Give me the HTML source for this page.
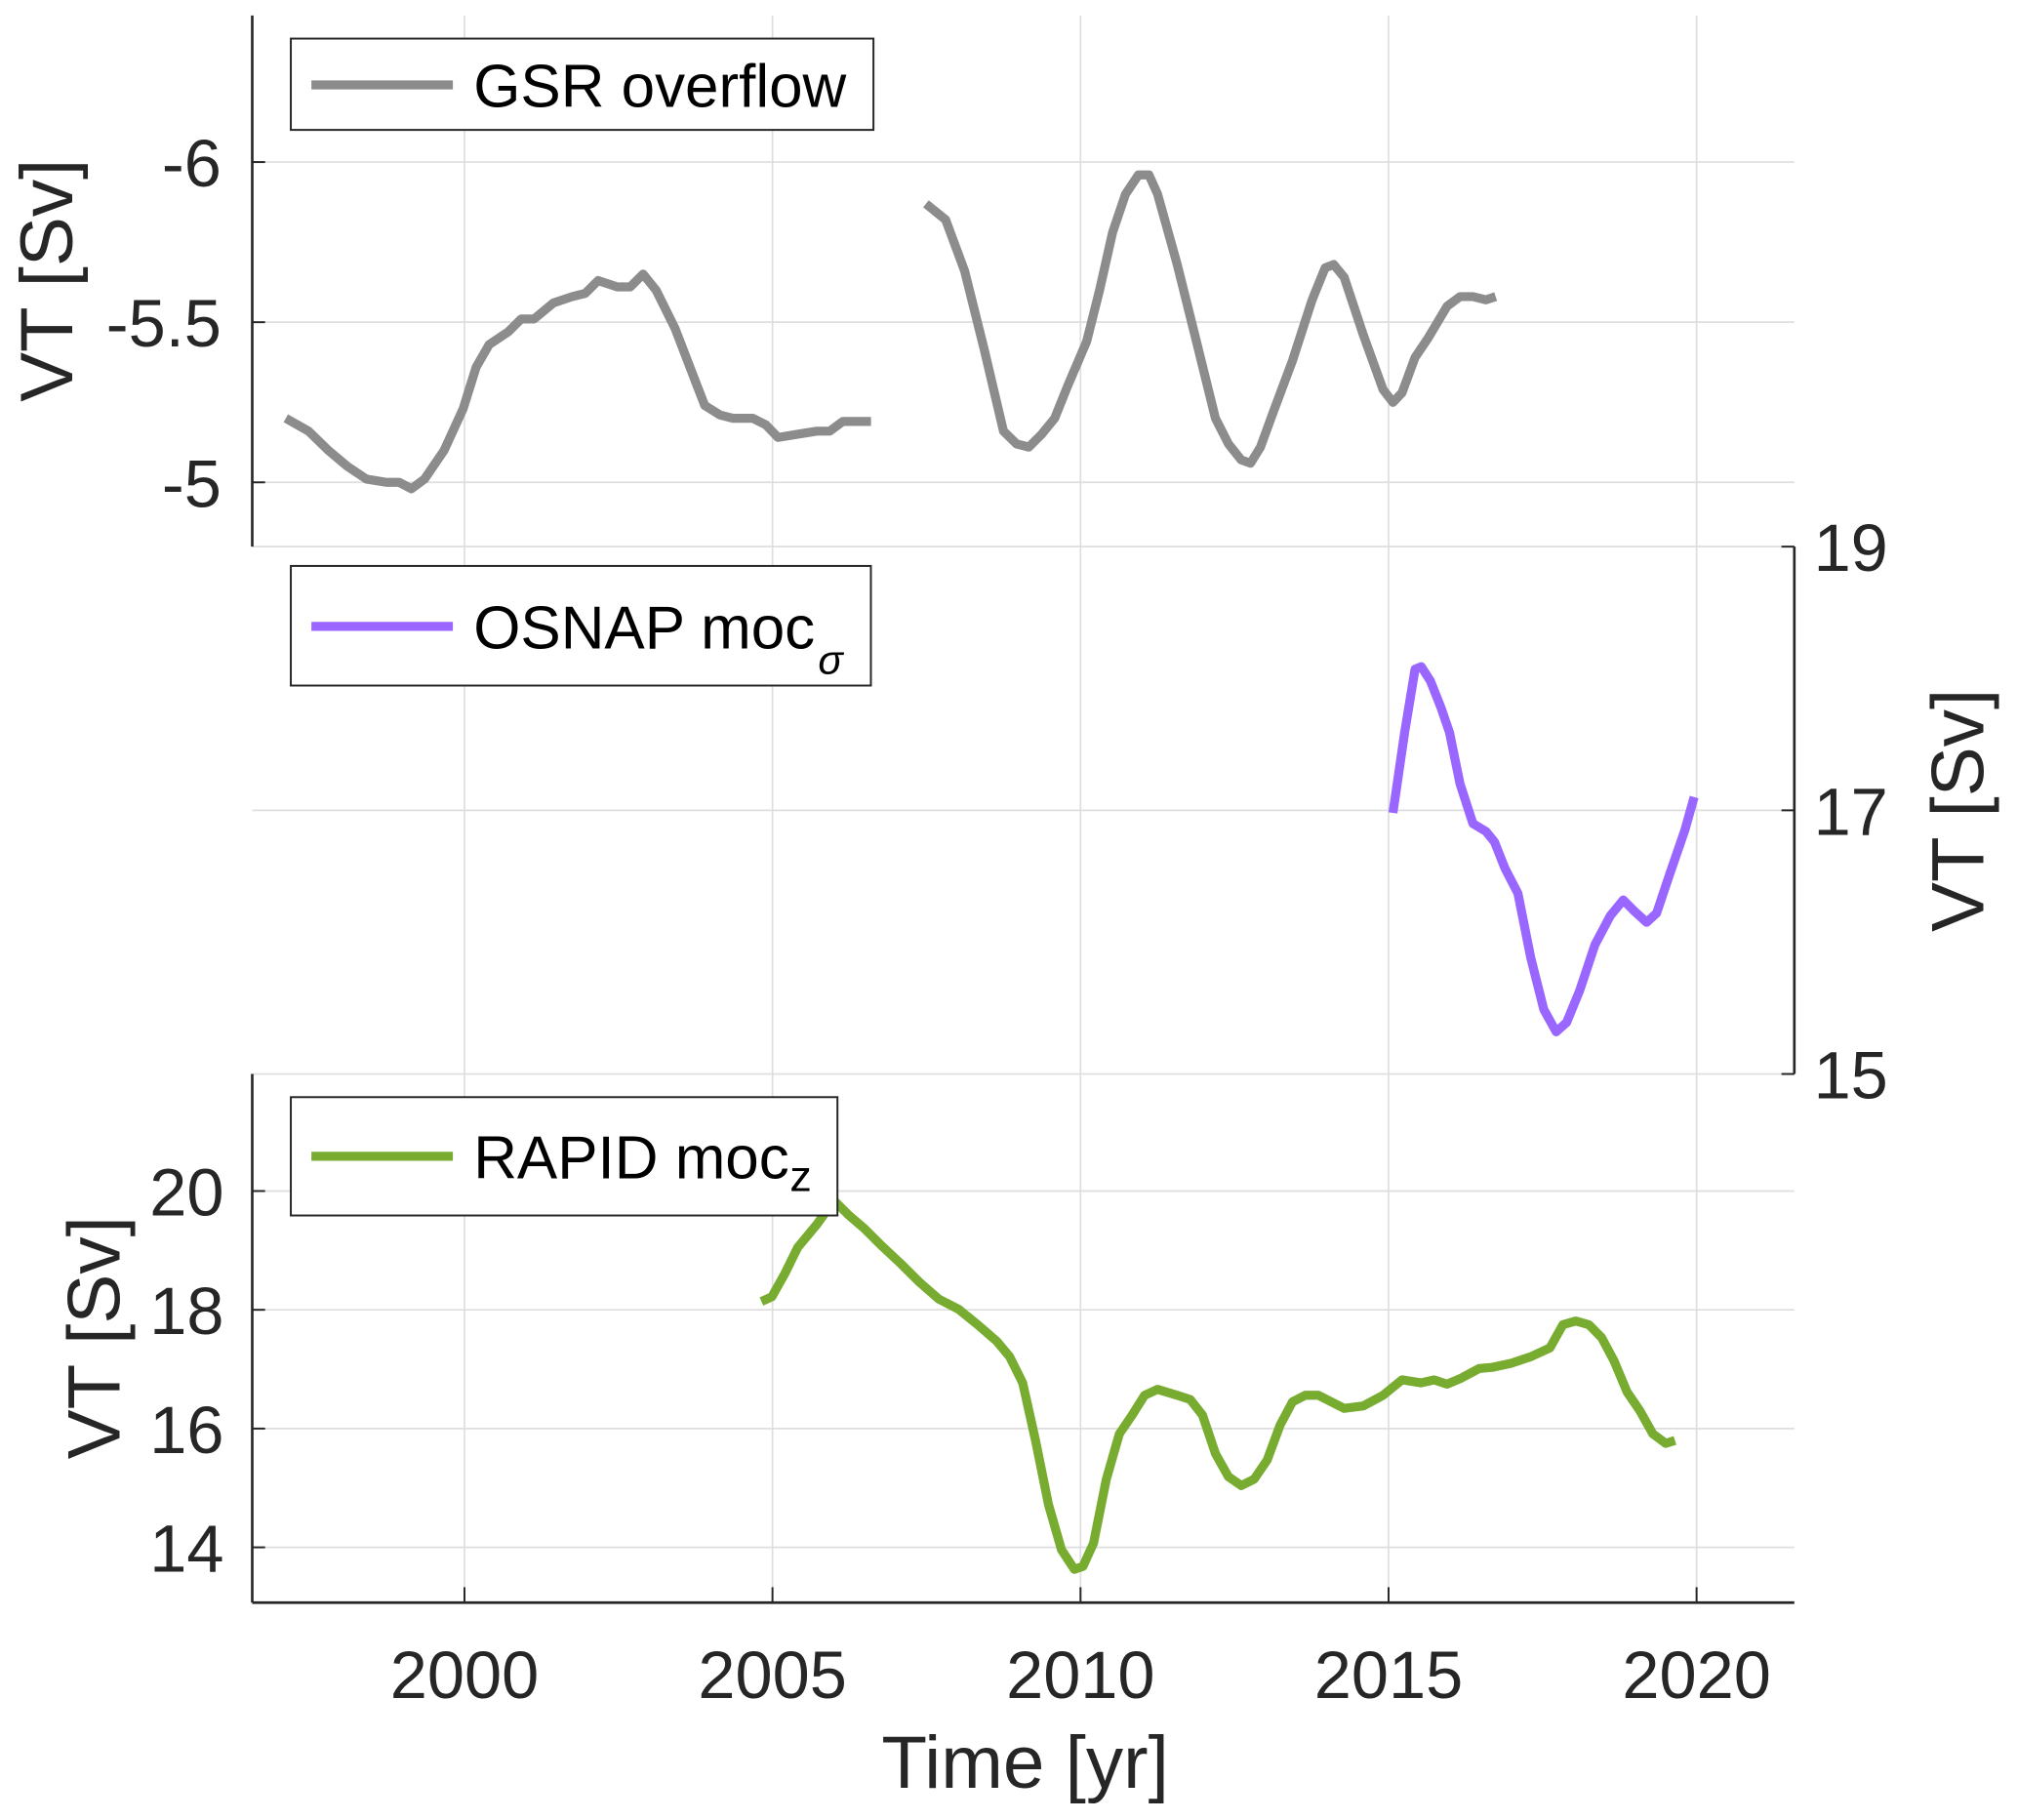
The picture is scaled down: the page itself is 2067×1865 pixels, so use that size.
<!DOCTYPE html>
<html><head><meta charset="utf-8"><style>
html,body{margin:0;padding:0;background:#fff}
svg{display:block}
text{font-family:"Liberation Sans",Arial,sans-serif}
</style></head><body>
<svg id="chart" width="2067" height="1865" viewBox="0 0 1568 1415" xmlns="http://www.w3.org/2000/svg">
<g id="grid"></g>
<g id="axes"></g>
<g id="series"></g>
<g id="legends">
 <g>
  <rect x="226" y="30" width="453" height="71" fill="#fff" stroke="#262626" stroke-width="1.5"/>
  <line x1="242" y1="66" x2="352" y2="66" stroke="#8c8c8c" stroke-width="7"/>
  <text x="368" y="83" font-size="47" fill="#000">GSR overflow</text>
 </g>
 <g>
  <rect x="226" y="440" width="451" height="93" fill="#fff" stroke="#262626" stroke-width="1.5"/>
  <line x1="242" y1="487" x2="352" y2="487" stroke="#9966ff" stroke-width="7"/>
  <text x="368" y="504" font-size="47" fill="#000">OSNAP moc</text>
  <text x="636" y="524" font-size="32" font-style="italic" font-family="Liberation Serif,serif" fill="#000">σ</text>
 </g>
 <g>
  <rect x="226" y="853" width="425" height="92" fill="#fff" stroke="#262626" stroke-width="1.5"/>
  <line x1="242" y1="899" x2="352" y2="899" stroke="#77ac30" stroke-width="7"/>
  <text x="368" y="916" font-size="47" fill="#000">RAPID moc</text>
  <text x="614" y="926" font-size="34" fill="#000">z</text>
 </g>
</g>
</svg>
<script>
const xTicks=[2000,2005,2010,2015,2020];
const gsrTicks=[-6,-5.5,-5];
const osnapTicks=[19,17,15];
const rapidTicks=[20,18,16,14];
const gsr1Years=[1997.10,1997.47,1997.79,1998.10,1998.41,1998.73,1998.94,1999.14,1999.35,1999.67,1999.98,2000.19,2000.40,2000.71,2000.92,2001.13,2001.44,2001.75,2001.96,2002.17,2002.48,2002.69,2002.90,2003.11,2003.42,2003.74,2003.90,2004.15,2004.36,2004.68,2004.89,2005.09,2005.41,2005.72,2005.93,2006.14,2006.60];
const gsr1Values=[-5.20,-5.16,-5.10,-5.05,-5.01,-5.00,-5.00,-4.98,-5.01,-5.10,-5.23,-5.36,-5.43,-5.47,-5.51,-5.51,-5.56,-5.58,-5.59,-5.63,-5.61,-5.61,-5.65,-5.60,-5.48,-5.32,-5.24,-5.21,-5.20,-5.20,-5.18,-5.14,-5.15,-5.16,-5.16,-5.19,-5.19];
const gsr2Years=[2007.49,2007.81,2008.12,2008.43,2008.75,2008.96,2009.16,2009.37,2009.58,2009.79,2010.10,2010.31,2010.52,2010.73,2010.94,2011.11,2011.25,2011.57,2011.88,2012.19,2012.40,2012.61,2012.76,2012.92,2013.13,2013.44,2013.76,2013.97,2014.11,2014.28,2014.59,2014.91,2015.07,2015.22,2015.43,2015.64,2015.95,2016.16,2016.37,2016.58,2016.74];
const gsr2Values=[-5.87,-5.82,-5.66,-5.42,-5.16,-5.12,-5.11,-5.15,-5.20,-5.30,-5.44,-5.60,-5.78,-5.90,-5.96,-5.96,-5.90,-5.68,-5.44,-5.20,-5.12,-5.07,-5.06,-5.11,-5.22,-5.38,-5.57,-5.67,-5.68,-5.64,-5.46,-5.29,-5.25,-5.28,-5.39,-5.45,-5.55,-5.58,-5.58,-5.57,-5.58];
const osnapYears=[2015.07,2015.26,2015.43,2015.53,2015.68,2015.85,2015.99,2016.16,2016.37,2016.58,2016.72,2016.89,2017.10,2017.31,2017.52,2017.72,2017.89,2018.10,2018.35,2018.60,2018.81,2018.98,2019.19,2019.35,2019.56,2019.81,2019.96];
const osnapValues=[16.98,17.59,18.07,18.09,17.98,17.78,17.59,17.20,16.90,16.84,16.76,16.56,16.37,15.88,15.49,15.32,15.39,15.63,15.98,16.20,16.32,16.24,16.15,16.22,16.51,16.85,17.10];
const rapidYears=[2004.82,2004.99,2005.20,2005.41,2005.72,2005.93,2006.03,2006.24,2006.49,2006.76,2007.08,2007.39,2007.70,2008.02,2008.33,2008.64,2008.85,2009.06,2009.27,2009.48,2009.69,2009.90,2010.04,2010.21,2010.42,2010.63,2010.84,2011.04,2011.25,2011.57,2011.78,2011.98,2012.19,2012.40,2012.61,2012.82,2013.03,2013.24,2013.44,2013.65,2013.86,2014.07,2014.28,2014.59,2014.91,2015.22,2015.53,2015.74,2015.95,2016.16,2016.47,2016.68,2016.99,2017.31,2017.62,2017.83,2018.04,2018.25,2018.46,2018.66,2018.87,2019.08,2019.29,2019.50,2019.65];
const rapidValues=[18.14,18.22,18.61,19.05,19.44,19.74,19.81,19.59,19.37,19.09,18.78,18.46,18.18,18.01,17.75,17.47,17.21,16.77,15.80,14.72,13.96,13.63,13.68,14.07,15.15,15.91,16.23,16.56,16.66,16.56,16.49,16.23,15.58,15.19,15.04,15.15,15.47,16.06,16.45,16.56,16.56,16.45,16.34,16.38,16.56,16.82,16.77,16.82,16.75,16.84,17.01,17.03,17.10,17.21,17.36,17.75,17.81,17.75,17.53,17.14,16.62,16.30,15.91,15.75,15.80];

const NS='http://www.w3.org/2000/svg';
const X0=196,X1=1395;
const xS=y=>361+(y-2000)*47.9;
const yG=v=>126+(v+6)*249;
const yO=v=>425+(19-v)*102.5;
const yR=v=>926+(20-v)*46.17;
function mk(tag,attrs,parent){const e=document.createElementNS(NS,tag);for(const k in attrs)e.setAttribute(k,attrs[k]);parent.appendChild(e);return e;}
const grid=document.getElementById('grid'),axes=document.getElementById('axes'),series=document.getElementById('series');
const GC='#dedede',AC='#262626',TF=52;
xTicks.forEach(t=>{
 const l=mk('line',{x1:xS(t),x2:xS(t),y1:12,y2:1246,stroke:GC,'stroke-width':1.3},grid);
 
 
 const tk=mk('line',{x1:xS(t),x2:xS(t),y1:1234,y2:1246,stroke:AC,'stroke-width':1.5},axes);
 
 
 const tx=mk('text',{x:xS(t),y:1320,'font-size':TF,'text-anchor':'middle',fill:AC},axes);
 tx.textContent=t;
 
 
});
function hgrid(y){const l=mk('line',{x1:X0,x2:X1,y1:y,y2:y,stroke:GC,'stroke-width':1.3},grid);
 
 }
gsrTicks.forEach(t=>{hgrid(yG(t));
 const tk=mk('line',{x1:X0,x2:X0+10,y1:yG(t),y2:yG(t),stroke:AC,'stroke-width':1.5},axes);
 
 
 const tx=mk('text',{x:172,y:yG(t)+19,'font-size':TF,'text-anchor':'end',fill:AC},axes);
 tx.textContent=t;
 
 });
osnapTicks.forEach(t=>{hgrid(yO(t));
 const tk=mk('line',{x1:X1-10,x2:X1,y1:yO(t),y2:yO(t),stroke:AC,'stroke-width':1.5},axes);
 
 
 const tx=mk('text',{x:1410,y:yO(t)+19,'font-size':TF,fill:AC},axes);
 tx.textContent=t;
 
 });
rapidTicks.forEach(t=>{hgrid(yR(t));
 const tk=mk('line',{x1:X0,x2:X0+10,y1:yR(t),y2:yR(t),stroke:AC,'stroke-width':1.5},axes);
 
 
 const tx=mk('text',{x:174,y:yR(t)+19,'font-size':TF,'text-anchor':'end',fill:AC},axes);
 tx.textContent=t;
 
 });
[[X0,12,X0,425,'gsr-y-axis'],[X1,425,X1,835,'osnap-y-axis'],[X0,835,X0,1246,'rapid-y-axis'],[X0,1246,X1,1246,'x-axis']].forEach(a=>{
 const l=mk('line',{x1:a[0],y1:a[1],x2:a[2],y2:a[3],stroke:AC,'stroke-width':2},axes);
 
 });
function lab(txt,x,y,rot,name){const t=mk('text',{x:x,y:y,'font-size':58,'text-anchor':'middle',fill:AC,transform:rot?`rotate(-90 ${x} ${y})`:''},axes);
 t.textContent=txt;
 
 }
lab('VT [Sv]',56,218,true,'gsr-y-axis-title');
lab('VT [Sv]',93,1040,true,'rapid-y-axis-title');
lab('VT [Sv]',1542,630,true,'osnap-y-axis-title');
lab('Time [yr]',797,1390,false,'x-axis-title');
function line(xs,vs,yf,col,name){const d=xs.map((x,i)=>(i?'L':'M')+xS(x).toFixed(1)+','+yf(vs[i]).toFixed(1)).join('');
 const p=mk('path',{d:d,fill:'none',stroke:col,'stroke-width':7,'stroke-linejoin':'round'},series);
 
 }
line(gsr1Years,gsr1Values,yG,'#8c8c8c','gsr-line-1');
line(gsr2Years,gsr2Values,yG,'#8c8c8c','gsr-line-2');
line(osnapYears,osnapValues,yO,'#9966ff','osnap-line');
line(rapidYears,rapidValues,yR,'#77ac30','rapid-line');
</script>
</body></html>
